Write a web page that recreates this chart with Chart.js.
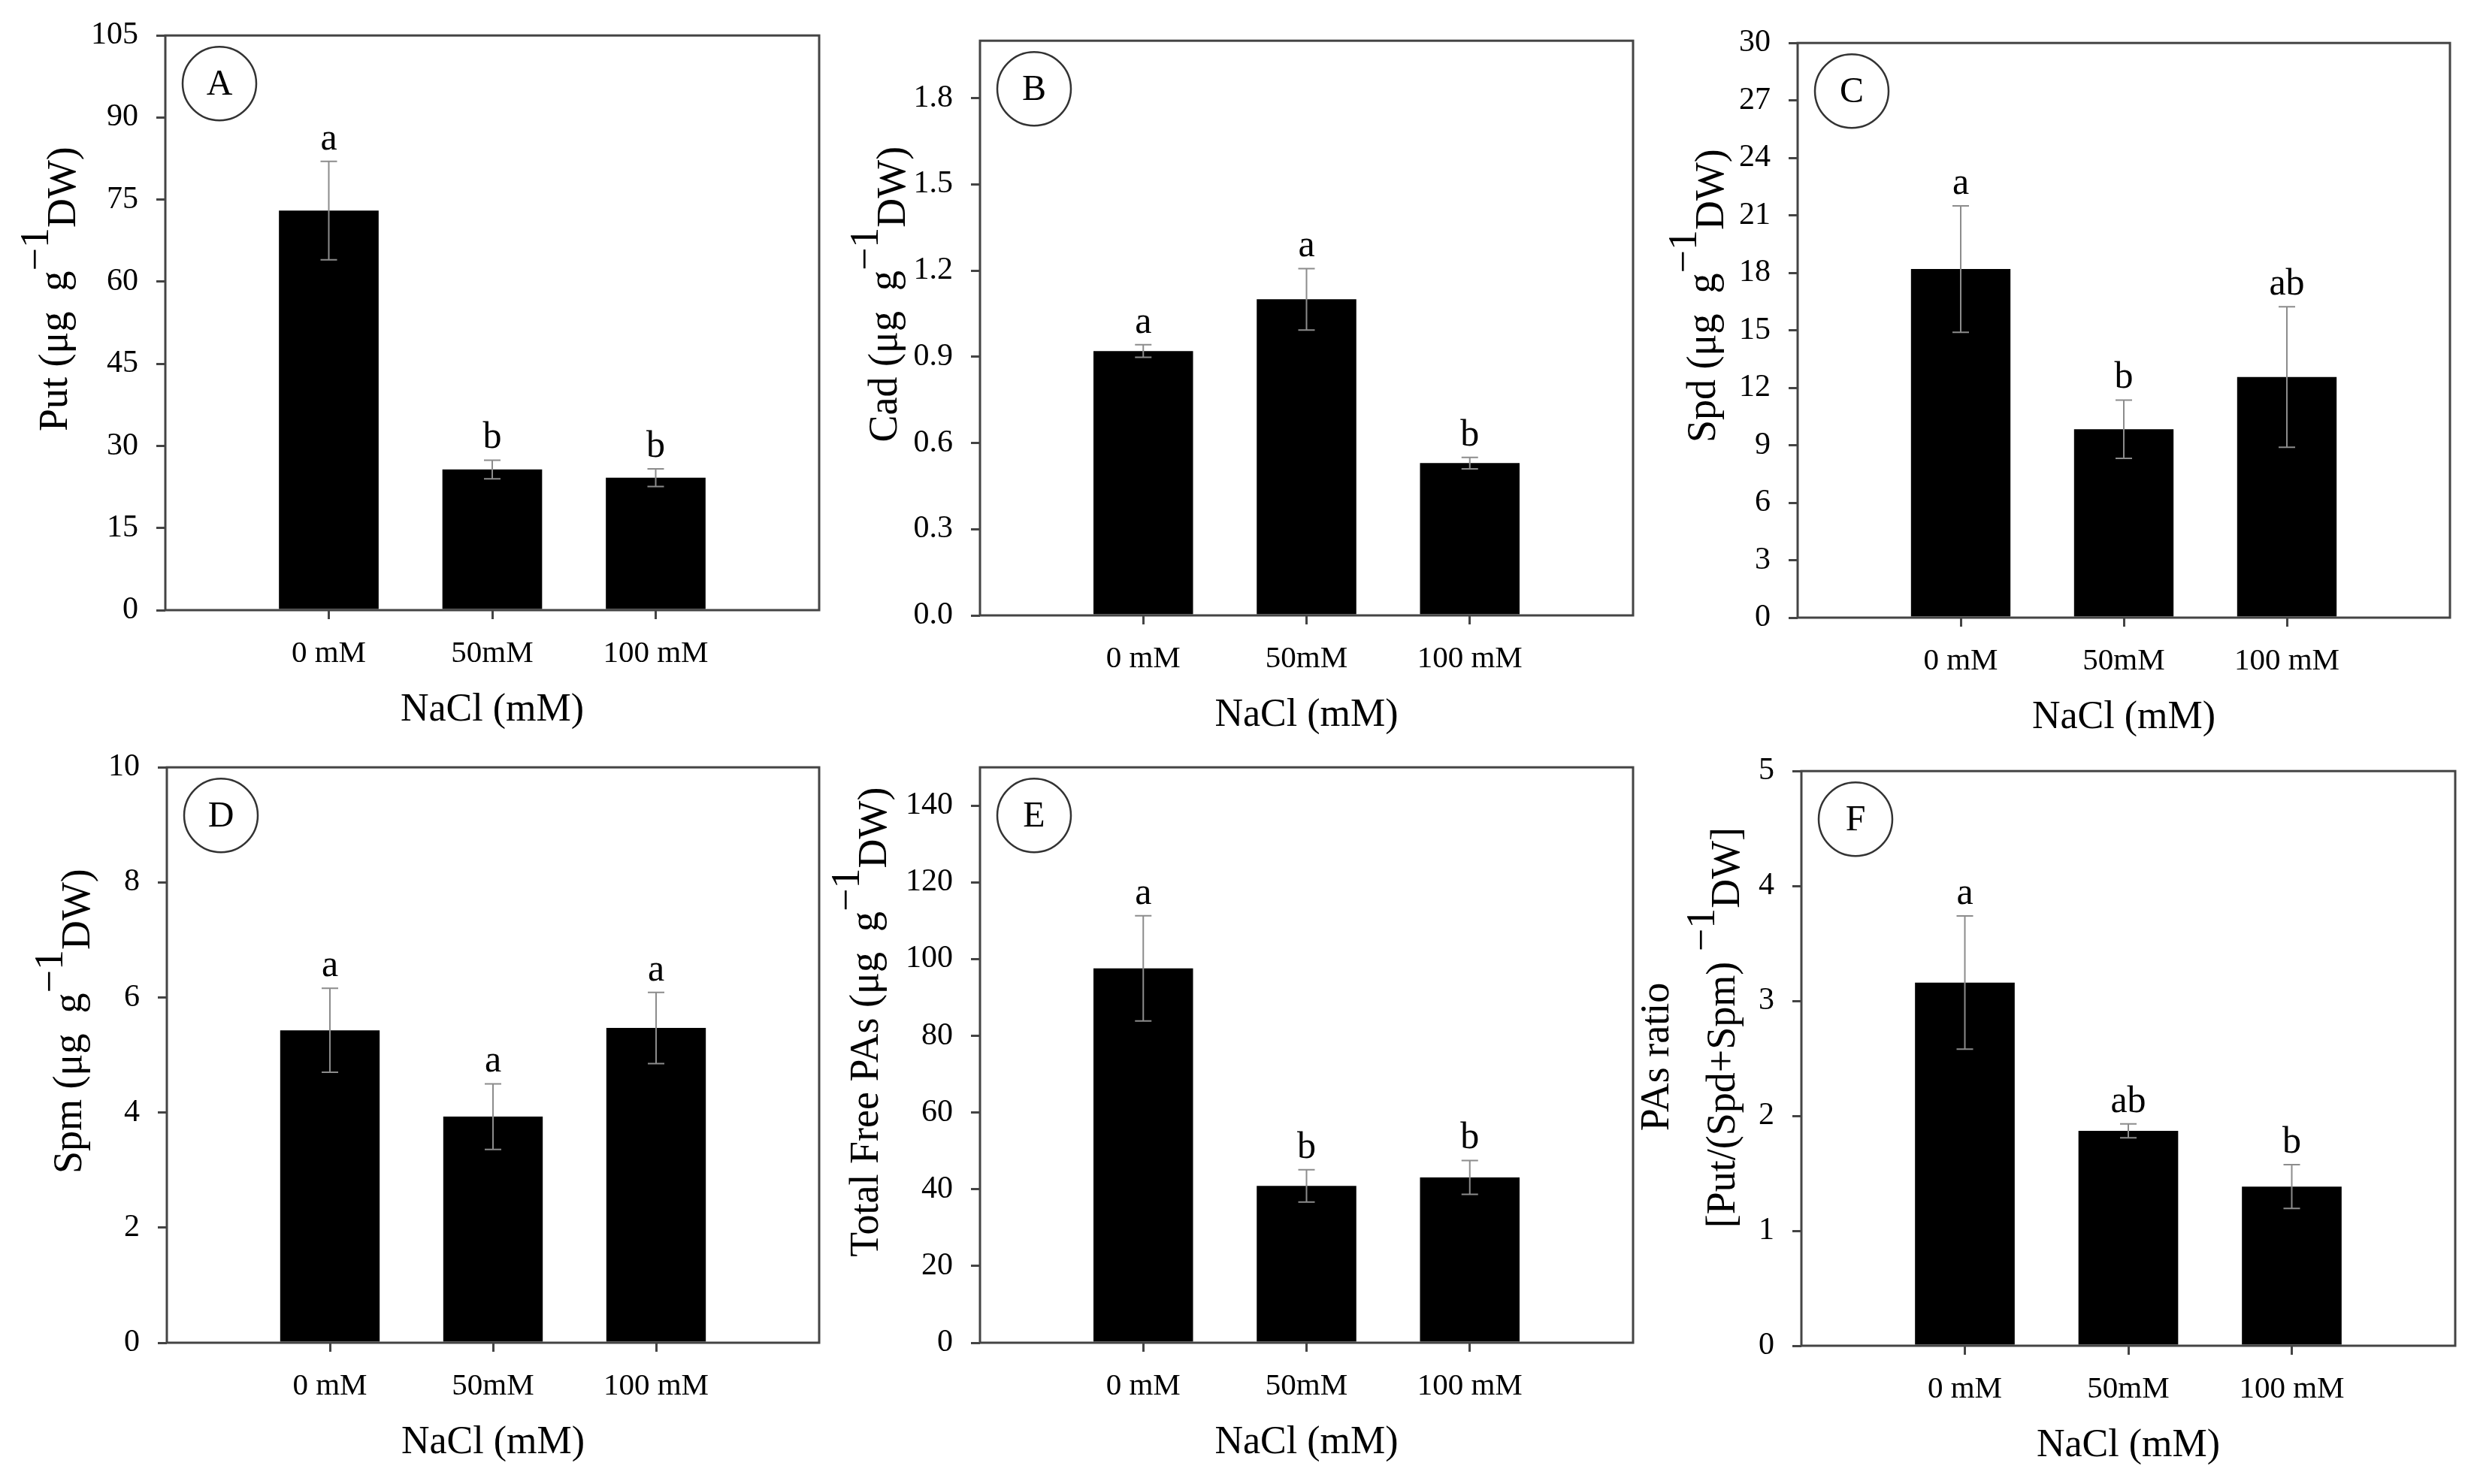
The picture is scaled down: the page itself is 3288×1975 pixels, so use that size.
<!DOCTYPE html>
<html>
<head>
<meta charset="utf-8">
<script src="https://cdn.jsdelivr.net/npm/chart.js@4.4.1/dist/chart.umd.min.js"></script>
<style>
  html, body { margin: 0; padding: 0; background: #fff; }
  body { width: 3288px; height: 1975px; position: relative; overflow: hidden; }
  .panel { position: absolute; }
</style>
</head>
<body>
<script>
// NaCl treatments
const categories = ["0 mM", "50mM", "100 mM"];

// A - putrescine
const putMean = [73.0, 25.7, 24.2];
const putSE = [9.0, 1.7, 1.6];
const putLetters = ["a", "b", "b"];

// B - cadaverine
const cadMean = [0.92, 1.10, 0.53];
const cadSE = [0.022, 0.107, 0.02];
const cadLetters = ["a", "a", "b"];

// C - spermidine
const spdMean = [18.2, 9.84, 12.56];
const spdSE = [3.3, 1.52, 3.67];
const spdLetters = ["a", "b", "ab"];

// D - spermine
const spmMean = [5.43, 3.93, 5.47];
const spmSE = [0.73, 0.57, 0.62];
const spmLetters = ["a", "a", "a"];

// E - total free PAs
const totalMean = [97.6, 40.9, 43.1];
const totalSE = [13.7, 4.2, 4.4];
const totalLetters = ["a", "b", "b"];

// F - PAs ratio
const ratioMean = [3.16, 1.87, 1.385];
const ratioSE = [0.58, 0.06, 0.19];
const ratioLetters = ["a", "ab", "b"];

const FONT = "'Liberation Serif', 'Times New Roman', serif";
const AXIS = "#444";
const SUP = -25, SUB = 11;

// y title pieces: [text, baseline shift]
const unitTitle = name => [[name + " (\u03bcg  g", 0], ["\u22121", SUP], ["DW)", SUB]];

// layout per panel: box = [left, top, right, bottom] of the plot frame
const panels = [
  { tag: "A", mean: putMean, se: putSE, letters: putLetters, yMax: 105, yStep: 15, decimals: 0,
    box: [220, 38, 1092, 812],
    titleLines: [{ x: 131, dy: -45, parts: unitTitle("Put") }] },
  { tag: "B", mean: cadMean, se: cadSE, letters: cadLetters, yMax: 2.0, yStep: 0.3, decimals: 1,
    box: [1304, 45, 2175, 819],
    titleLines: [{ x: 111, dy: -45, parts: unitTitle("Cad") }] },
  { tag: "C", mean: spdMean, se: spdSE, letters: spdLetters, yMax: 30, yStep: 3, decimals: 0,
    box: [2392, 48, 3262, 822],
    titleLines: [{ x: 110, dy: -46, parts: unitTitle("Spd") }] },
  { tag: "D", mean: spmMean, se: spmSE, letters: spmLetters, yMax: 10, yStep: 2, decimals: 0,
    box: [222, 1012, 1092, 1787],
    titleLines: [{ x: 114, dy: -45, parts: unitTitle("Spm") }] },
  { tag: "E", mean: totalMean, se: totalSE, letters: totalLetters, yMax: 150, yStep: 20, decimals: 0,
    box: [1304, 1012, 2175, 1787],
    titleLines: [{ x: 136, dy: -44, parts: unitTitle("Total Free PAs") }] },
  { tag: "F", mean: ratioMean, se: ratioSE, letters: ratioLetters, yMax: 5, yStep: 1, decimals: 0,
    box: [2397, 1017, 3269, 1791],
    titleLines: [
      { x: 177, dy: -2, parts: [["PAs ratio", 0]] },
      { x: 89, dy: -41, parts: [["[Put/(Spd+Spm) ", 0], ["\u22121", SUP - 2], ["DW]", 6]] }
    ] }
];

const decorPlugin = {
  id: "decor",
  afterDatasetsDraw(chart, args, opts) {
    const p = opts.panel;
    const ctx = chart.ctx;
    const ca = chart.chartArea;
    const y = chart.scales.y;
    const meta = chart.getDatasetMeta(0);
    ctx.save();

    // error bars and significance letters
    p.mean.forEach((m, i) => {
      const x = meta.data[i + 1].x;
      const yt = y.getPixelForValue(m + p.se[i]);
      const yb = y.getPixelForValue(m - p.se[i]);
      ctx.strokeStyle = "#8c8c8c";
      ctx.lineWidth = 2;
      ctx.beginPath();
      ctx.moveTo(x, yt); ctx.lineTo(x, yb);
      ctx.moveTo(x - 11, yt); ctx.lineTo(x + 11, yt);
      ctx.moveTo(x - 11, yb); ctx.lineTo(x + 11, yb);
      ctx.stroke();
      ctx.fillStyle = "#000";
      ctx.font = "50px " + FONT;
      ctx.textAlign = "center";
      ctx.textBaseline = "alphabetic";
      ctx.fillText(p.letters[i], x, yt - 16);
    });

    // frame
    ctx.strokeStyle = AXIS;
    ctx.lineWidth = 3;
    ctx.strokeRect(ca.left, ca.top, ca.right - ca.left, ca.bottom - ca.top);

    // panel tag in a circle
    const cx = ca.left + 72, cy = ca.top + 64;
    ctx.lineWidth = 2.5;
    ctx.strokeStyle = "#333";
    ctx.beginPath();
    ctx.arc(cx, cy, 49, 0, Math.PI * 2);
    ctx.stroke();
    ctx.fillStyle = "#000";
    ctx.font = "48px " + FONT;
    ctx.textAlign = "center";
    ctx.textBaseline = "middle";
    ctx.fillText(p.tag, cx, cy + 2);

    // rotated y-axis title with super/subscript pieces
    ctx.textAlign = "left";
    ctx.textBaseline = "alphabetic";
    ctx.font = "54px " + FONT;
    p.titleLines.forEach(line => {
      const widths = line.parts.map(([t]) => ctx.measureText(t).width);
      const total = widths.reduce((a, b) => a + b, 0);
      ctx.save();
      ctx.translate(ca.left - line.x, (ca.top + ca.bottom) / 2 + line.dy);
      ctx.rotate(-Math.PI / 2);
      let cur = -total / 2;
      line.parts.forEach(([t, shift], k) => {
        ctx.fillText(t, cur, shift);
        cur += widths[k];
      });
      ctx.restore();
    });

    ctx.restore();
  }
};

function makeChart(p) {
  const [l, t, r, b] = p.box;
  const div = document.createElement("div");
  div.className = "panel";
  div.style.left = (l - 220) + "px";
  div.style.top = (t - 40) + "px";
  div.style.width = (r - l + 240) + "px";
  div.style.height = (b - t + 209) + "px";
  const canvas = document.createElement("canvas");
  div.appendChild(canvas);
  document.body.appendChild(div);

  const lastTick = Math.floor(p.yMax / p.yStep + 1e-9) * p.yStep;

  new Chart(canvas, {
    type: "bar",
    data: {
      labels: ["", ...categories, ""],
      datasets: [{
        data: [null, ...p.mean, null],
        backgroundColor: "#000",
        borderWidth: 0,
        barPercentage: 0.61,
        categoryPercentage: 1
      }]
    },
    options: {
      responsive: true,
      maintainAspectRatio: false,
      animation: false,
      devicePixelRatio: 1,
      layout: { padding: { left: 0, top: 40, right: 20, bottom: 0 } },
      plugins: {
        legend: { display: false },
        tooltip: { enabled: false },
        decor: { panel: p }
      },
      scales: {
        x: {
          offset: false,
          grid: {
            offset: false,
            drawOnChartArea: false,
            tickLength: 12,
            lineWidth: 3,
            color: c => (c.index >= 1 && c.index <= 3) ? AXIS : "rgba(0,0,0,0)"
          },
          border: { display: false },
          ticks: { autoSkip: false, maxRotation: 0, color: "#000", font: { family: FONT, size: 41 }, padding: 22 },
          title: { display: true, text: "NaCl (mM)", color: "#000", font: { family: FONT, size: 52 }, padding: { top: 0, bottom: 4 } },
          afterFit: s => { s.height = 169; }
        },
        y: {
          min: 0,
          max: p.yMax,
          grid: { drawOnChartArea: false, tickLength: 12, lineWidth: 3, color: AXIS },
          border: { display: false },
          ticks: {
            stepSize: p.yStep,
            color: "#000",
            font: { family: FONT, size: 42 },
            padding: 24,
            callback: v => Number(v).toFixed(p.decimals)
          },
          afterBuildTicks: s => { s.ticks = s.ticks.filter(tk => tk.value <= lastTick + 1e-9); },
          afterFit: s => { s.width = 220; }
        }
      }
    },
    plugins: [decorPlugin]
  });
}

panels.forEach(makeChart);
</script>
</body>
</html>
